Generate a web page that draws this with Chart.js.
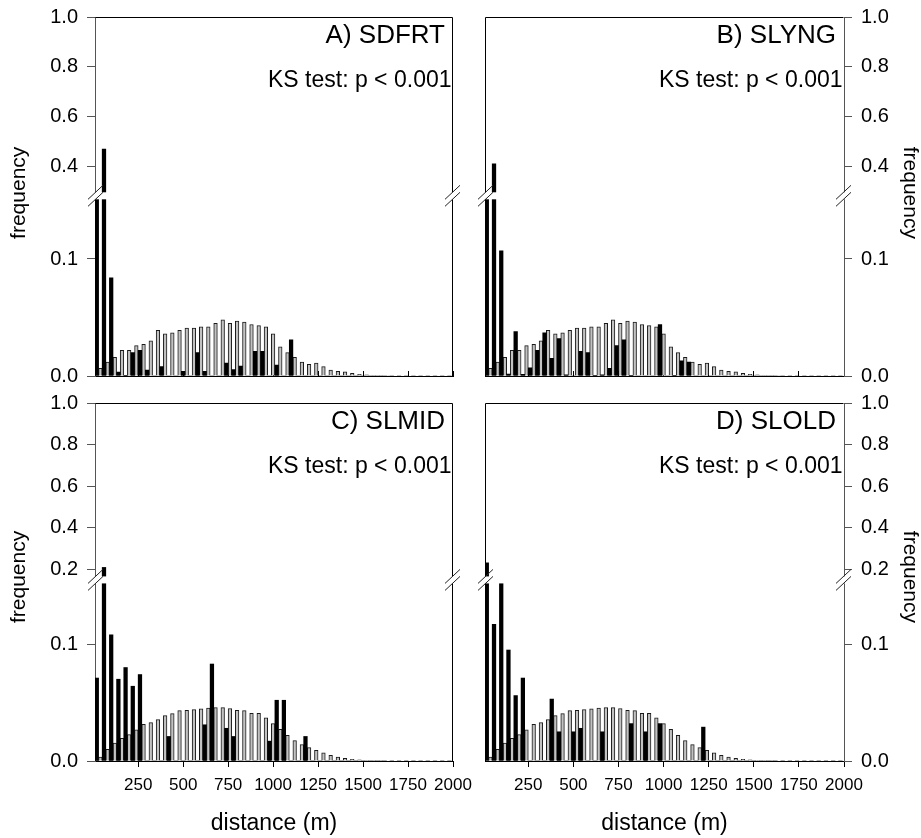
<!DOCTYPE html>
<html>
<head>
<meta charset="utf-8">
<title>distance frequency</title>
<script src="https://cdn.jsdelivr.net/npm/chart.js@4.4.1/dist/chart.umd.min.js"></script>
<style>
    html, body { margin: 0; padding: 0; background: #fff; }
    #figure { position: relative; width: 921px; height: 838px; }
    #figure canvas { position: absolute; }
</style>
</head>
<body>
<div id="figure">
    <canvas id="panelA" width="465" height="390" style="left:0;top:0"></canvas>
    <canvas id="panelB" width="456" height="390" style="left:465px;top:0"></canvas>
    <canvas id="panelC" width="480" height="448" style="left:0;top:390px"></canvas>
    <canvas id="panelD" width="456" height="448" style="left:465px;top:390px"></canvas>
</div>
<script>
// ==================== DATA ====================
// 40 m distance classes (class centres, m)
const distanceBins = [30, 70, 110, 150, 190, 230, 270, 310, 350, 390,
    430, 470, 510, 550, 590, 630, 670, 710, 750, 790,
    830, 870, 910, 950, 990, 1030, 1070, 1110, 1150, 1190,
    1230, 1270, 1310, 1350, 1390, 1430, 1470, 1510, 1550, 1590,
    1630, 1670, 1710, 1750, 1790, 1830, 1870, 1910, 1950, 1990];

const xTickValues = [250, 500, 750, 1000, 1250, 1500, 1750, 2000];
const upperTicksAB = [0.4, 0.6, 0.8, 1.0];
const upperTicksCD = [0.2, 0.4, 0.6, 0.8, 1.0];
const lowerTicks = [0.0, 0.1];

// grey bars (random distances)
const expectedAB = [0.0065, 0.012, 0.016, 0.022, 0.022, 0.026, 0.027, 0.030, 0.039, 0.036,
    0.037, 0.039, 0.041, 0.041, 0.042, 0.042, 0.045, 0.048, 0.045, 0.047,
    0.046, 0.044, 0.043, 0.042, 0.036, 0.025, 0.020, 0.016, 0.012, 0.010,
    0.011, 0.008, 0.005, 0.004, 0.0035, 0.0023, 0.0015, 0.001, 0.0006, 0.0005,
    0.0004, 0, 0, 0, 0, 0, 0, 0, 0, 0];

const expectedCD = [0.0034, 0.010, 0.0154, 0.0194, 0.0226, 0.0266, 0.0314, 0.0329, 0.0354, 0.0389,
    0.0406, 0.0431, 0.0434, 0.044, 0.0446, 0.0454, 0.0457, 0.0457, 0.0449, 0.0434,
    0.0431, 0.0409, 0.0409, 0.0369, 0.032, 0.0271, 0.022, 0.0174, 0.014, 0.0114,
    0.0091, 0.0069, 0.0049, 0.0034, 0.0023, 0.0014, 0.0009, 0.0006, 0.0003, 0.0003,
    0, 0, 0, 0, 0, 0, 0, 0, 0, 0];

// black bars (observed distances)
const observedA = [0.20, 0.47, 0.084, 0.0034, 0.0006, 0.020, 0.022, 0.005, 0, 0.008,
    0, 0, 0.004, 0, 0.020, 0.004, 0, 0, 0.011, 0.0054,
    0.0085, 0, 0.021, 0.021, 0, 0.0094, 0, 0.031, 0, 0,
    0, 0, 0, 0, 0, 0, 0, 0, 0, 0,
    0, 0, 0, 0, 0, 0, 0, 0, 0, 0];

const observedB = [0.20, 0.41, 0.107, 0.0017, 0.038, 0.0014, 0.007, 0.022, 0.037, 0.015,
    0.032, 0.001, 0, 0.021, 0.020, 0.0006, 0.001, 0.0065, 0.026, 0.031,
    0.0006, 0, 0, 0, 0.044, 0, 0.0006, 0.013, 0.012, 0,
    0, 0, 0, 0, 0, 0, 0, 0, 0, 0,
    0, 0, 0, 0, 0, 0, 0, 0, 0, 0];

const observedC = [0.071, 0.21, 0.108, 0.070, 0.080, 0.064, 0.074, 0, 0, 0,
    0.021, 0, 0, 0, 0, 0.031, 0.083, 0, 0.028, 0.021,
    0, 0, 0, 0, 0.017, 0.052, 0.052, 0, 0, 0.021,
    0, 0, 0, 0, 0, 0, 0, 0, 0, 0,
    0, 0, 0, 0, 0, 0, 0, 0, 0, 0];

const observedD = [0.232, 0.117, 0.152, 0.095, 0.056, 0.071, 0, 0, 0, 0.053,
    0.025, 0, 0.025, 0.028, 0, 0, 0.025, 0, 0, 0,
    0.032, 0, 0.025, 0, 0.032, 0, 0, 0, 0, 0,
    0.029, 0, 0, 0, 0, 0, 0, 0, 0, 0,
    0, 0, 0, 0, 0, 0, 0, 0, 0, 0];

const panelTitles = ['A) SDFRT', 'B) SLYNG', 'C) SLMID', 'D) SLOLD'];
const ksText = 'KS test: p < 0.001';
const yTitle = 'frequency';
const xTitle = 'distance (m)';

// ==================== STYLE ====================
const FONT = '"Liberation Sans", Arial, Helvetica, sans-serif';
Chart.defaults.font.family = FONT;
Chart.defaults.color = '#000';

// draws the frame, the axis break, the panel labels and the y title
const panelDecor = {
    id: 'panelDecor',
    afterDraw(chart, args, o) {
        const ctx = chart.ctx;
        const a = chart.chartArea;
        const yb = chart.scales.yUp.bottom;
        const L = Math.round(a.left) + 0.5;
        const R = Math.round(a.right) - 0.5;
        const T = Math.round(a.top) + 0.5;
        ctx.save();

        // gap of the broken axis
        ctx.fillStyle = '#fff';
        ctx.fillRect(a.left - 2, yb - 3.5, a.right - a.left + 4, 7);

        // frame: top line + the side without axis
        ctx.strokeStyle = '#000';
        ctx.lineWidth = 1;
        ctx.beginPath();
        ctx.moveTo(L, T);
        ctx.lineTo(R, T);
        const fx = o.axisLeft ? R : L;
        ctx.moveTo(fx, T);
        ctx.lineTo(fx, yb - 3.5);
        ctx.moveTo(fx, yb + 3.5);
        ctx.lineTo(fx, a.bottom);
        ctx.stroke();

        // break marks //
        ctx.strokeStyle = '#222';
        ctx.beginPath();
        [L, R].forEach(x => {
            [yb - 3.5, yb + 3.5].forEach(y => {
                ctx.moveTo(x - 7.5, y + 7);
                ctx.lineTo(x + 7.5, y - 7);
            });
        });
        ctx.stroke();

        // panel labels
        ctx.fillStyle = '#000';
        ctx.textAlign = 'right';
        ctx.textBaseline = 'alphabetic';
        ctx.font = '26px ' + FONT;
        ctx.fillText(o.title, a.right - 8, a.top + 25.5);
        ctx.font = '23px ' + FONT;
        ctx.fillText(ksText, a.right - 1.5, a.top + 70);

        // y title
        ctx.font = '21px ' + FONT;
        ctx.textAlign = 'center';
        ctx.textBaseline = 'middle';
        ctx.translate(o.yTitleX, yb - 3);
        ctx.rotate(o.axisLeft ? -Math.PI / 2 : Math.PI / 2);
        ctx.fillText(yTitle, 0, 0);
        ctx.restore();
    }
};

// ==================== PANELS ====================
function createPanel(canvasId, cfg) {
    const side = cfg.axisLeft ? 'left' : 'right';
    const upperData = distanceBins.map((x, i) => ({ x: x, y: cfg.observed[i] > cfg.upMin ? cfg.observed[i] : null }));
    const lowerData = distanceBins.map((x, i) => ({ x: x, y: Math.min(cfg.observed[i], cfg.lowMax) }));
    const expData = distanceBins.map((x, i) => ({ x: x, y: cfg.expected[i] }));

    const yCommon = {
        type: 'linear',
        axis: 'y',
        position: side,
        stack: 'freq',
        offset: false,
        bounds: 'data',
        stacked: false,
        grid: { drawOnChartArea: false, tickLength: 8, color: '#555' },
        border: { color: '#555', width: 1 },
        ticks: { font: { size: 20 }, color: '#000', padding: 9, autoSkip: false, callback: v => Number(v).toFixed(1) },
        afterFit: s => { s.width = cfg.yWidth; s.paddingTop = 0; s.paddingBottom = 0; }
    };

    return new Chart(document.getElementById(canvasId), {
        type: 'bar',
        data: {
            datasets: [
                { label: 'observed', data: lowerData, yAxisID: 'yLow', stack: 'obs',
                  backgroundColor: '#000', borderWidth: 0 },
                { label: 'random', data: expData, yAxisID: 'yLow', stack: 'exp',
                  backgroundColor: '#c2c2c2', borderColor: '#1a1a1a', borderWidth: 1 },
                { label: 'observed (upper)', data: upperData, yAxisID: 'yUp', stack: 'obs',
                  backgroundColor: '#000', borderWidth: 0 }
            ]
        },
        options: {
            responsive: false,
            animation: false,
            categoryPercentage: 1.0,
            barPercentage: 1.0,
            layout: { padding: cfg.padding },
            plugins: {
                legend: { display: false },
                tooltip: { enabled: false },
                panelDecor: { title: cfg.title, axisLeft: cfg.axisLeft, yTitleX: cfg.yTitleX }
            },
            scales: {
                x: {
                    type: 'linear',
                    min: 10,
                    max: 2000,
                    offset: false,
                    bounds: 'data',
                    grid: { drawOnChartArea: false, offset: false, tickLength: cfg.bottom ? 6 : -5, color: '#000' },
                    border: { color: '#000', width: 1 },
                    ticks: { display: cfg.bottom, font: { size: 17 }, color: '#000', padding: 8, maxRotation: 0,
                             autoSkip: false, callback: v => String(v) },
                    title: { display: cfg.bottom, text: xTitle, font: { size: 23 }, color: '#000', padding: { top: 0, bottom: 1 } },
                    afterBuildTicks: s => { s.ticks = xTickValues.map(v => ({ value: v })); },
                    afterFit: s => { s.height = cfg.xHeight; s.paddingLeft = 0; s.paddingRight = 0; }
                },
                yUp: Object.assign({}, yCommon, {
                    min: cfg.upMin, max: 1.0,
                    stackWeight: (1 - cfg.upMin) * cfg.upScale,
                    weight: cfg.axisLeft ? 1 : 0,
                    afterBuildTicks: s => { s.ticks = cfg.upperTicks.map(v => ({ value: v })); }
                }),
                yLow: Object.assign({}, yCommon, {
                    min: 0, max: cfg.lowMax,
                    stackWeight: cfg.lowMax * cfg.lowScale,
                    weight: cfg.axisLeft ? 0 : 1,
                    afterBuildTicks: s => { s.ticks = lowerTicks.map(v => ({ value: v })); }
                })
            }
        },
        plugins: [panelDecor]
    });
}

createPanel('panelA', {
    title: panelTitles[0], observed: observedA, expected: expectedAB,
    axisLeft: true, bottom: false, upperTicks: upperTicksAB,
    upMin: 0.282, lowMax: 0.154, upScale: 249, lowScale: 1170,
    yWidth: 95, xHeight: 14, yTitleX: 19.5,
    padding: { left: 0, top: 17, right: 12, bottom: 0 }
});

createPanel('panelB', {
    title: panelTitles[1], observed: observedB, expected: expectedAB,
    axisLeft: false, bottom: false, upperTicks: upperTicksAB,
    upMin: 0.282, lowMax: 0.154, upScale: 249, lowScale: 1170,
    yWidth: 77, xHeight: 14, yTitleX: 445,
    padding: { left: 20, top: 17, right: 0, bottom: 0 }
});

createPanel('panelC', {
    title: panelTitles[2], observed: observedC, expected: expectedCD,
    axisLeft: true, bottom: true, upperTicks: upperTicksCD,
    upMin: 0.15, lowMax: 0.155, upScale: 207.9, lowScale: 1167,
    yWidth: 95, xHeight: 77, yTitleX: 19.5,
    padding: { left: 0, top: 13, right: 27, bottom: 0 }
});

createPanel('panelD', {
    title: panelTitles[3], observed: observedD, expected: expectedCD,
    axisLeft: false, bottom: true, upperTicks: upperTicksCD,
    upMin: 0.15, lowMax: 0.155, upScale: 207.9, lowScale: 1167,
    yWidth: 77, xHeight: 77, yTitleX: 445,
    padding: { left: 20, top: 13, right: 0, bottom: 0 }
});
</script>
</body>
</html>
